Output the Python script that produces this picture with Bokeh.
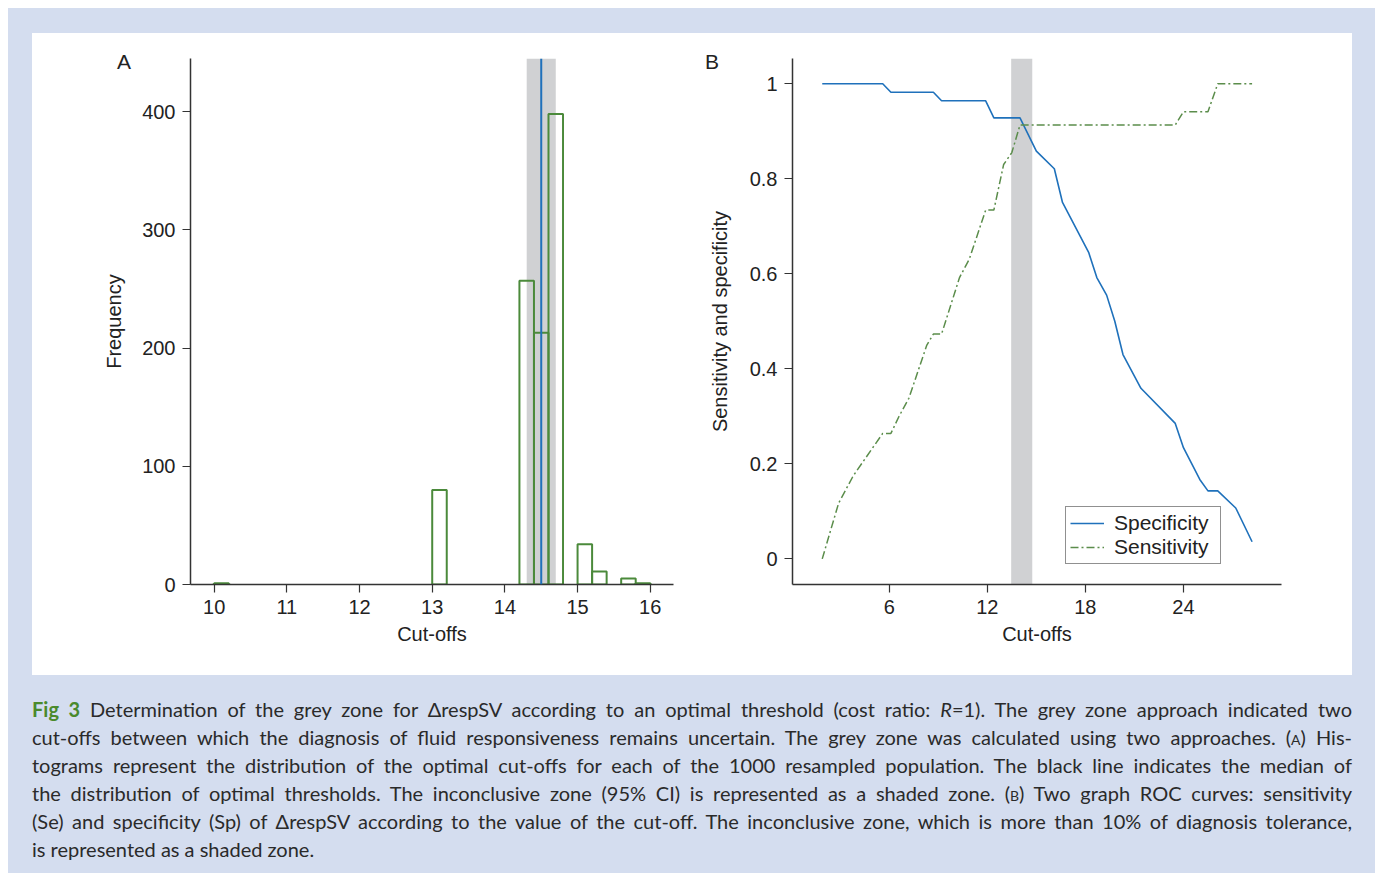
from bokeh.plotting import figure
from bokeh.models import (BoxAnnotation, Span, Legend, LegendItem, FixedTicker,
                          CustomJSTickFormatter, Div, Row, Column, Range1d)
from bokeh.embed import file_html
from bokeh.resources import INLINE

# ---------------- Panel A data: histogram of optimal cut-offs ----------------
bin_left = [10.0, 13.0, 14.2, 14.4, 14.6, 15.0, 15.2, 15.6, 15.8]
bin_width = 0.2
bin_counts = [1, 80, 257, 213, 398, 34, 11, 5, 1]
median_cutoff = 14.5
ci_low_a, ci_high_a = 14.3, 14.7
xticks_a = [10, 11, 12, 13, 14, 15, 16]
yticks_a = [0, 100, 200, 300, 400]

# ---------------- Panel B data: two-graph ROC ----------------
spec_x = [1.9, 5.6, 6.1, 8.7, 9.2, 11.9, 12.4, 14.0, 15.0, 16.1, 16.6, 18.2, 18.7,
          19.3, 19.8, 20.3, 21.4, 23.5, 24.0, 25.0, 25.5, 26.1, 27.2, 28.2]
spec_y = [1.0, 1.0, 0.982, 0.982, 0.964, 0.964, 0.928, 0.928, 0.858, 0.821, 0.75, 0.645,
          0.592, 0.555, 0.5, 0.43, 0.359, 0.285, 0.234, 0.167, 0.143, 0.143, 0.107, 0.036]
sens_x = [1.9, 2.9, 3.8, 5.6, 6.1, 6.6, 7.2, 8.3, 8.7, 9.2, 10.3, 10.9, 11.9, 12.4,
          13.0, 13.5, 14.0, 23.5, 24.0, 25.5, 26.1, 28.2]
sens_y = [0.0, 0.117, 0.175, 0.264, 0.264, 0.30, 0.338, 0.45, 0.473, 0.473, 0.592, 0.631,
          0.734, 0.734, 0.83, 0.855, 0.913, 0.913, 0.941, 0.941, 1.0, 1.0]
grey_low_b, grey_high_b = 13.46, 14.75
xticks_b = [6, 12, 18, 24]
yticks_b = [0, 0.2, 0.4, 0.6, 0.8, 1]
panel_letters = ["A", "B"]

FONT = "Liberation Sans"
TXT = "#222222"
AXC = "#333333"
GREEN = "#4b8a3b"
BLUE = "#1f71bb"
GREY = "#d0d1d3"
BG = "#d4ddef"


def style(p):
    p.xgrid.visible = False
    p.ygrid.visible = False
    for ax in (p.xaxis[0], p.yaxis[0]):
        ax.axis_line_color = AXC
        ax.axis_line_width = 1.5
        ax.major_tick_line_color = AXC
        ax.major_tick_line_width = 1.2
        ax.major_tick_in = 0
        ax.major_tick_out = 8
        ax.minor_tick_line_color = None
        ax.major_label_text_font = FONT
        ax.major_label_text_font_size = "20px"
        ax.major_label_text_color = TXT
        ax.axis_label_text_font = FONT
        ax.axis_label_text_font_size = "20px"
        ax.axis_label_text_font_style = "normal"
        ax.axis_label_text_color = TXT
    p.xaxis[0].major_label_standoff = 7
    p.xaxis[0].axis_label_standoff = 6
    p.yaxis[0].major_label_standoff = 7


# ---------------- Panel A ----------------
pA = figure(width=668, height=642, x_range=Range1d(9.674, 16.32), y_range=Range1d(0, 445),
            min_border_left=158, min_border_right=27, min_border_top=21, min_border_bottom=91,
            output_backend="svg", toolbar_location=None, outline_line_color=None,
            background_fill_color="white", border_fill_color="white")
style(pA)
pA.xaxis[0].ticker = FixedTicker(ticks=xticks_a)
pA.yaxis[0].ticker = FixedTicker(ticks=yticks_a)
pA.xaxis[0].axis_label = "Cut-offs"
pA.yaxis[0].axis_label = "Frequency"
pA.yaxis[0].axis_label_standoff = 14

pA.add_layout(BoxAnnotation(left=ci_low_a, right=ci_high_a, fill_color=GREY, fill_alpha=1.0,
                            line_alpha=0, level="underlay"))
pA.quad(left=bin_left, right=[b + bin_width for b in bin_left], bottom=0, top=bin_counts,
        fill_alpha=0, line_color=GREEN, line_width=2)
pA.add_layout(Span(location=median_cutoff, dimension="height", line_color=BLUE, line_width=2))

# ---------------- Panel B ----------------
pB = figure(width=652, height=642, x_range=Range1d(0.08, 30.0), y_range=Range1d(-0.054, 1.053),
            min_border_left=92, min_border_right=71, min_border_top=25, min_border_bottom=91,
            output_backend="svg", toolbar_location=None, outline_line_color=None,
            background_fill_color="white", border_fill_color="white")
style(pB)
pB.xaxis[0].ticker = FixedTicker(ticks=xticks_b)
pB.yaxis[0].ticker = FixedTicker(ticks=yticks_b)
pB.yaxis[0].formatter = CustomJSTickFormatter(code="return String(Math.round(tick*10)/10);")
pB.xaxis[0].axis_label = "Cut-offs"
pB.yaxis[0].axis_label = "Sensitivity and specificity"
pB.yaxis[0].axis_label_standoff = 16

pB.add_layout(BoxAnnotation(left=grey_low_b, right=grey_high_b, fill_color=GREY, fill_alpha=1.0,
                            line_alpha=0, level="underlay"))
r_spec = pB.line(spec_x, spec_y, line_color=BLUE, line_width=1.6)
r_sens = pB.line(sens_x, sens_y, line_color="#5b8d4b", line_width=1.5, line_dash="8 3 2 3")

legend = Legend(items=[LegendItem(label="Specificity", renderers=[r_spec]),
                       LegendItem(label="Sensitivity", renderers=[r_sens])],
                location=(273, 20), orientation="vertical",
                label_text_font=FONT, label_text_font_size="21px", label_text_color=TXT,
                label_height=20, label_width=102, glyph_height=20, glyph_width=34,
                label_standoff=10, spacing=0, padding=4, margin=0,
                border_line_color="#222222", border_line_width=1.2,
                background_fill_color="white", background_fill_alpha=1.0)
pB.add_layout(legend)

# ---------------- Panel letters (HTML overlay on top of the plot row) ----------------
letter_css = ("position:absolute; top:18px; font-family:'Liberation Sans', Arial, sans-serif; "
              "font-size:21px; line-height:21px; color:#222222;")
letters_html = ('<div style="position:relative; width:1320px; height:642px;">'
                '<span style="' + letter_css + ' left:85px;">' + panel_letters[0] + '</span>'
                '<span style="' + letter_css + ' left:673px;">' + panel_letters[1] + '</span>'
                '</div>')
letters = Div(text=letters_html, width=1320, height=642, margin=(-642, 0, 0, 24))

# ---------------- Caption ----------------
line_style = "text-align: justify; text-align-last: justify; white-space: nowrap;"
last_style = "text-align: left; white-space: nowrap;"
sc_a = '(<span style="font-variant: small-caps;">a</span>)'
sc_b = '(<span style="font-variant: small-caps;">b</span>)'
lines = [
    '<span style="color:#4a8a2c; font-weight:bold;">Fig 3</span> Determination of the grey zone for \u0394respSV according to an optimal threshold (cost ratio: <i>R</i>=1). The grey zone approach indicated two',
    'cut-offs between which the diagnosis of fluid responsiveness remains uncertain. The grey zone was calculated using two approaches. ' + sc_a + ' His-',
    'tograms represent the distribution of the optimal cut-offs for each of the 1000 resampled population. The black line indicates the median of',
    'the distribution of optimal thresholds. The inconclusive zone (95% CI) is represented as a shaded zone. ' + sc_b + ' Two graph ROC curves: sensitivity',
    '(Se) and specificity (Sp) of \u0394respSV according to the value of the cut-off. The inconclusive zone, which is more than 10% of diagnosis tolerance,',
    'is represented as a shaded zone.',
]
html = '<div style="font-family: Lato, sans-serif; font-size: 20px; line-height: 28px; color: #2a2a2a; width: 1320px;">'
for i, ln in enumerate(lines):
    st = last_style if i == len(lines) - 1 else line_style
    html += '<div style="' + st + '">' + ln + '</div>'
html += '</div>'

cap = Div(text=html, width=1320, height=170, margin=(20, 0, 0, 24))

row = Row(children=[pA, pB], margin=(25, 0, 0, 24), styles={"background-color": "white"})
layout = Column(children=[row, letters, cap], width=1367, height=865, margin=(8, 0, 0, 8),
                styles={"background-color": BG})

open("out.html", "w").write(file_html(layout, INLINE))
